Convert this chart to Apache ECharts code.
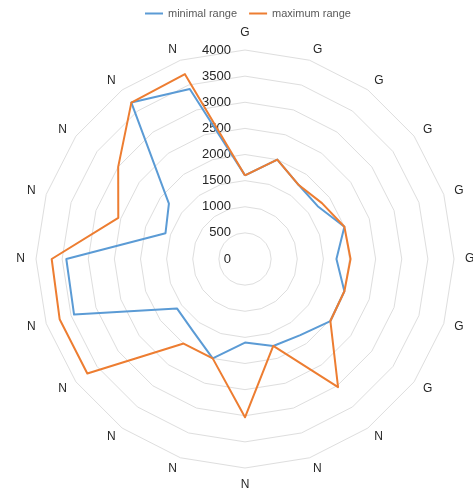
<!DOCTYPE html>
<html>
<head>
<meta charset="utf-8">
<script src="https://cdn.jsdelivr.net/npm/echarts@6/dist/echarts.min.js"></script>
<style>
  html, body { margin: 0; padding: 0; background: #fff; }
  #chart { width: 473px; height: 494px; }
</style>
</head>
<body>
<div id="chart"></div>
<script>
// categories clockwise from the top
const categories = ['G', 'G', 'G', 'G', 'G', 'G', 'G', 'G', 'N', 'N', 'N', 'N', 'N', 'N', 'N', 'N', 'N', 'N', 'N', 'N']
const minimalRange = [1600, 2000, 1750, 1720, 2000, 1750, 2000, 2020, 1800, 1750, 1600, 2000, 1700, 1610, 3440, 3420, 1600, 1800, 3700, 3420]
const maximumRange = [1600, 2000, 1750, 1820, 2000, 2020, 2000, 2020, 3030, 1750, 3030, 2000, 2000, 3730, 3730, 3700, 2550, 3000, 3700, 3720]
const AXIS_MAX = 4000

const BLUE = '#5B9BD5'
const ORANGE = '#ED7D31'
const FONT = '"Liberation Sans", Arial, sans-serif'

// echarts lays radar axes counter-clockwise, so walk the list backwards after the first one
const order = categories.map((_, i) => (categories.length - i) % categories.length)

const chart = echarts.init(document.getElementById('chart'), null, { renderer: 'canvas' })

chart.setOption({
  backgroundColor: '#fff',
  animation: false,
  legend: {
    top: 3,
    left: 140,
    itemWidth: 18,
    itemHeight: 2,
    itemGap: 12,
    icon: 'rect',
    textStyle: { color: '#595959', fontSize: 11, fontFamily: FONT },
    data: ['minimal range', 'maximum range'],
  },
  radar: {
    center: [245, 259],
    radius: 209,
    startAngle: 90,
    shape: 'polygon',
    splitNumber: 8,
    nameGap: 11,
    axisName: { color: '#262626', fontSize: 12, fontFamily: FONT },
    axisLine: { show: false },
    axisTick: { show: false },
    axisLabel: { show: false },
    splitLine: { lineStyle: { color: '#dedede', width: 1 } },
    splitArea: { show: false },
    indicator: order.map((idx, k) => ({
      name: categories[idx],
      min: 0,
      max: AXIS_MAX,
      axisLabel: k === 0
        ? { show: true, color: '#262626', fontSize: 13, fontFamily: FONT, margin: 14, formatter: v => String(v) }
        : { show: false },
    })),
  },
  series: [{
    type: 'radar',
    symbol: 'none',
    data: [
      {
        name: 'minimal range',
        value: order.map(i => minimalRange[i]),
        lineStyle: { color: BLUE, width: 2 },
        itemStyle: { color: BLUE },
      },
      {
        name: 'maximum range',
        value: order.map(i => maximumRange[i]),
        lineStyle: { color: ORANGE, width: 2 },
        itemStyle: { color: ORANGE },
      },
    ],
  }],
})
</script>
</body>
</html>
